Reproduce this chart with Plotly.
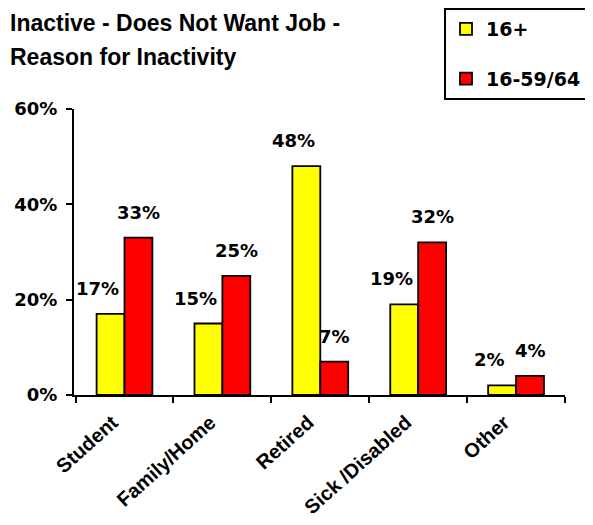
import plotly.graph_objects as go

categories = ["Student", "Family/Home", "Retired", "Sick /Disabled", "Other"]
series_names = ["16+", "16-59/64"]
values_16plus = [17, 15, 48, 19, 2]
values_16_59_64 = [33, 25, 7, 32, 4]
y_ticks = [0, 20, 40, 60]
y_tick_labels = ["0%", "20%", "40%", "60%"]

colors = ["#FFFF00", "#FF0000"]
num_font = "DejaVu Sans"

fig = go.Figure()
for name, vals, col, grp in zip(series_names, [values_16plus, values_16_59_64], colors, ["a", "b"]):
    fig.add_trace(go.Bar(
        x=categories, y=vals, name=name, legendgroup=grp,
        marker=dict(color=col, line=dict(color="black", width=1.8)),
    ))

# page body has an 8px default margin: work in window pixels, convert to figure pixels
OFF = 8
W, H = 593, 525
L = 74 - OFF
T = 109 - OFF
R = W - (565 - OFF)
B = H - (395 - OFF)
pw = W - L - R
ph = H - T - B

def wx(px):  # window x -> paper
    return (px - OFF - L) / pw

def wy(py):  # window y -> paper
    return (H - B - (py - OFF)) / ph

annotations = []
# data labels
for vals, xs in [(values_16plus, -27), (values_16_59_64, 14)]:
    for c, v in zip(categories, vals):
        annotations.append(dict(
            x=c, y=v, xref="x", yref="y", text=f"{v}%", showarrow=False,
            xshift=xs, yshift=13, yanchor="bottom", xanchor="center",
            font=dict(family=num_font, size=18, color="black", weight="bold"),
        ))

title_lines = ["Inactive - Does Not Want Job -", "Reason for Inactivity"]
for line, py in zip(title_lines, [8, 42]):
    annotations.append(dict(
        x=wx(OFF), y=wy(py), xref="paper", yref="paper",
        text=line, showarrow=False, xanchor="left", yanchor="top",
        font=dict(family="Liberation Sans", size=23, color="black", weight="bold"),
    ))

fig.update_layout(
    template="none",
    width=W, height=H,
    margin=dict(l=L, r=R, t=T, b=B, pad=0, autoexpand=False),
    paper_bgcolor="white", plot_bgcolor="white",
    barmode="group", bargap=0.43, bargroupgap=0,
    showlegend=True,
    legend=dict(
        xref="container", yref="container",
        x=(444 - OFF) / W, y=1, xanchor="left", yanchor="top",
        bordercolor="black", borderwidth=2, bgcolor="white",
        font=dict(family=num_font, size=19, color="black", weight="bold"),
        tracegroupgap=22, itemwidth=30,
    ),
    annotations=annotations,
    xaxis=dict(
        type="category", showline=True, linecolor="black", linewidth=2,
        ticks="outside", tickson="boundaries", ticklen=6, tickwidth=2, tickcolor="black",
        tickangle=-42, showgrid=False, automargin=False,
        ticklabelstandoff=6, ticklabelshift=-12,
        tickfont=dict(family="Liberation Sans", size=20, color="black", weight="bold"),
    ),
    yaxis=dict(
        range=[0, 60], tickvals=y_ticks, ticktext=y_tick_labels,
        showline=True, linecolor="black", linewidth=2,
        ticks="outside", ticklen=6, tickwidth=2, tickcolor="black",
        showgrid=False, zeroline=False, automargin=False, ticklabelstandoff=5,
        tickfont=dict(family=num_font, size=18, color="black", weight="bold"),
    ),
)

fig.write_html("out.html")
